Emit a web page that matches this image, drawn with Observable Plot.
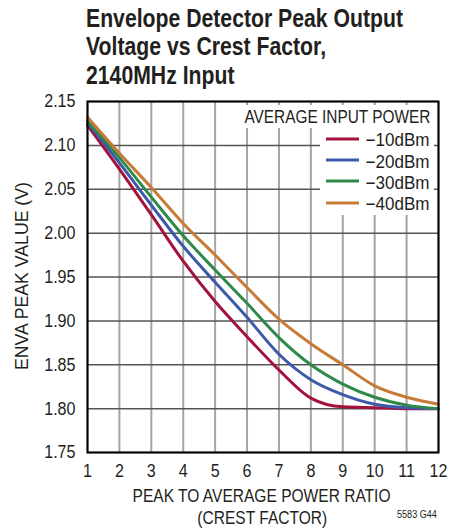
<!DOCTYPE html>
<html><head><meta charset="utf-8">
<script src="https://cdn.jsdelivr.net/npm/d3@7"></script>
<script src="https://cdn.jsdelivr.net/npm/@observablehq/plot@0.6"></script>
<style>
body{margin:0;background:#fff;}
#wrap{position:relative;width:450px;height:531px;overflow:hidden;font-family:"Liberation Sans",Arimo,Arial,sans-serif;color:#231f20;}
#wrap > svg{position:absolute;left:0;top:0;}
.t{position:absolute;white-space:nowrap;line-height:1;}
.box{position:absolute;background:#fff;}
</style></head>
<body><div id="wrap"></div>
<script>
const crest = [1,2,3,4,5,6,7,8,9,10,11,12];
const xTicks = [1,2,3,4,5,6,7,8,9,10,11,12];
const yTicks = [1.75,1.80,1.85,1.90,1.95,2.00,2.05,2.10,2.15];
const seriesNames = ["\u221210dBm","\u221220dBm","\u221230dBm","\u221240dBm"];
const seriesColors = ["#a3123a","#3d5aa9","#2f8a4a","#c87b36"];
const m10 = [2.123,2.073,2.021,1.968,1.922,1.882,1.844,1.812,1.802,1.801,1.800,1.800];
const m20 = [2.126,2.080,2.032,1.985,1.944,1.904,1.862,1.833,1.816,1.805,1.801,1.800];
const m30 = [2.128,2.086,2.041,1.997,1.958,1.920,1.881,1.850,1.828,1.813,1.804,1.800];
const m40 = [2.132,2.091,2.052,2.011,1.975,1.938,1.902,1.874,1.850,1.826,1.813,1.805];
const title = ["Envelope Detector Peak Output","Voltage vs Crest Factor,","2140MHz Input"];
const xLabel = ["PEAK TO AVERAGE POWER RATIO","(CREST FACTOR)"];
const yLabel = "ENVA PEAK VALUE (V)";
const legendTitle = "AVERAGE INPUT POWER";
const code = "5583 G44";

const allSeries = [m10,m20,m30,m40];
const data = allSeries.flatMap((vals,k)=>crest.map((x,i)=>({x, y:vals[i], s:seriesNames[k]})));

const chart = Plot.plot({
  width:450, height:531,
  marginLeft:87, marginRight:12, marginTop:101, marginBottom:79,
  style:{fontFamily:'"Liberation Sans",Arimo,Arial,sans-serif', fontSize:"18.5px", color:"#231f20", background:"transparent"},
  x:{domain:[1,12], label:null},
  y:{domain:[1.75,2.15], label:null},
  color:{domain:seriesNames, range:seriesColors},
  marks:[
    Plot.gridX(xTicks,{stroke:"#a4a4a4", strokeWidth:2, strokeOpacity:1}),
    Plot.gridY(yTicks,{stroke:"#555", strokeWidth:1.5, strokeOpacity:1}),
    Plot.line(data,{x:"x", y:"y", z:"s", stroke:"s", strokeWidth:3, curve:"monotone-x"}),
    Plot.frame({stroke:"#000", strokeWidth:2}),
    Plot.axisX(xTicks,{tickSize:0, tickPadding:11, label:null, fontSize:18.5}),
    Plot.axisY(yTicks,{tickSize:0, tickPadding:12, label:null, fontSize:18.5, tickFormat:d=>d.toFixed(2)})
  ]
});
const wrap = document.getElementById("wrap");
wrap.appendChild(chart);
// condense tick labels horizontally around their anchor
chart.querySelectorAll('g[aria-label$="tick label"] text').forEach(el=>{
  const tr = el.getAttribute("transform") || "";
  el.setAttribute("transform", tr + " scale(0.87,1)");
});

// white legend backgrounds
function box(l,t,w,h){const d=document.createElement("div");d.className="box";Object.assign(d.style,{left:l+"px",top:t+"px",width:w+"px",height:h+"px"});wrap.appendChild(d);}
box(243,105,191,23);
box(320,128,114,87);

// text helper: anchor point (x, center y), horizontal condensing
function txt(s,{x,y,anchor="start",size=18.5,weight="normal",target=null,scale=null,rotate=false}){
  const e=document.createElement("span"); e.className="t"; e.textContent=s;
  e.style.fontSize=size+"px"; e.style.fontWeight=weight;
  wrap.appendChild(e);
  const w=e.getBoundingClientRect().width;
  const k = target? target/w : (scale||1);
  const top = y - 0.49*size;
  if(rotate){
    e.style.left=(x - w/2)+"px"; e.style.top=top+"px";
    e.style.transformOrigin="50% 49%";
    e.style.transform=`rotate(-90deg) scaleX(${k})`;
    return k;
  }
  let left = anchor==="start"? x : anchor==="end"? x-w : x-w/2;
  e.style.left=left+"px"; e.style.top=top+"px";
  e.style.transformOrigin = anchor==="start"?"0 0":anchor==="end"?"100% 0":"50% 0";
  e.style.transform=`scaleX(${k})`;
  return k;
}
// title
const kt = txt(title[0],{x:86,y:18,size:26,weight:"bold",target:317});
txt(title[1],{x:86,y:46,size:26,weight:"bold",scale:kt});
txt(title[2],{x:86,y:74.5,size:26,weight:"bold",scale:kt});
// axis labels
const kx = txt(xLabel[0],{x:262,y:496,anchor:"middle",target:258});
txt(xLabel[1],{x:262,y:518,anchor:"middle",scale:kx});
txt(yLabel,{x:22.5,y:276,rotate:true,target:188});
txt(code,{x:437,y:514.5,anchor:"end",size:10,target:40});
// legend
txt(legendTitle,{x:430,y:117,anchor:"end",size:18,target:186});
let kl=null;
seriesNames.forEach((n,i)=>{
  const cy = 139.5 + 21.4*i;
  const k = txt(n,{x:430,y:cy+0.5,anchor:"end",size:18, target: i===0?64:null, scale:kl});
  if(i===0) kl=k;
  const sv=document.createElementNS("http://www.w3.org/2000/svg","svg");
  sv.setAttribute("width","33"); sv.setAttribute("height","6");
  Object.assign(sv.style,{position:"absolute",left:"326px",top:(cy-3-1)+"px"});
  sv.innerHTML=`<line x1="0" x2="33" y1="3" y2="3" stroke="${seriesColors[i]}" stroke-width="3"/>`;
  wrap.appendChild(sv);
});
</script>
</body></html>
